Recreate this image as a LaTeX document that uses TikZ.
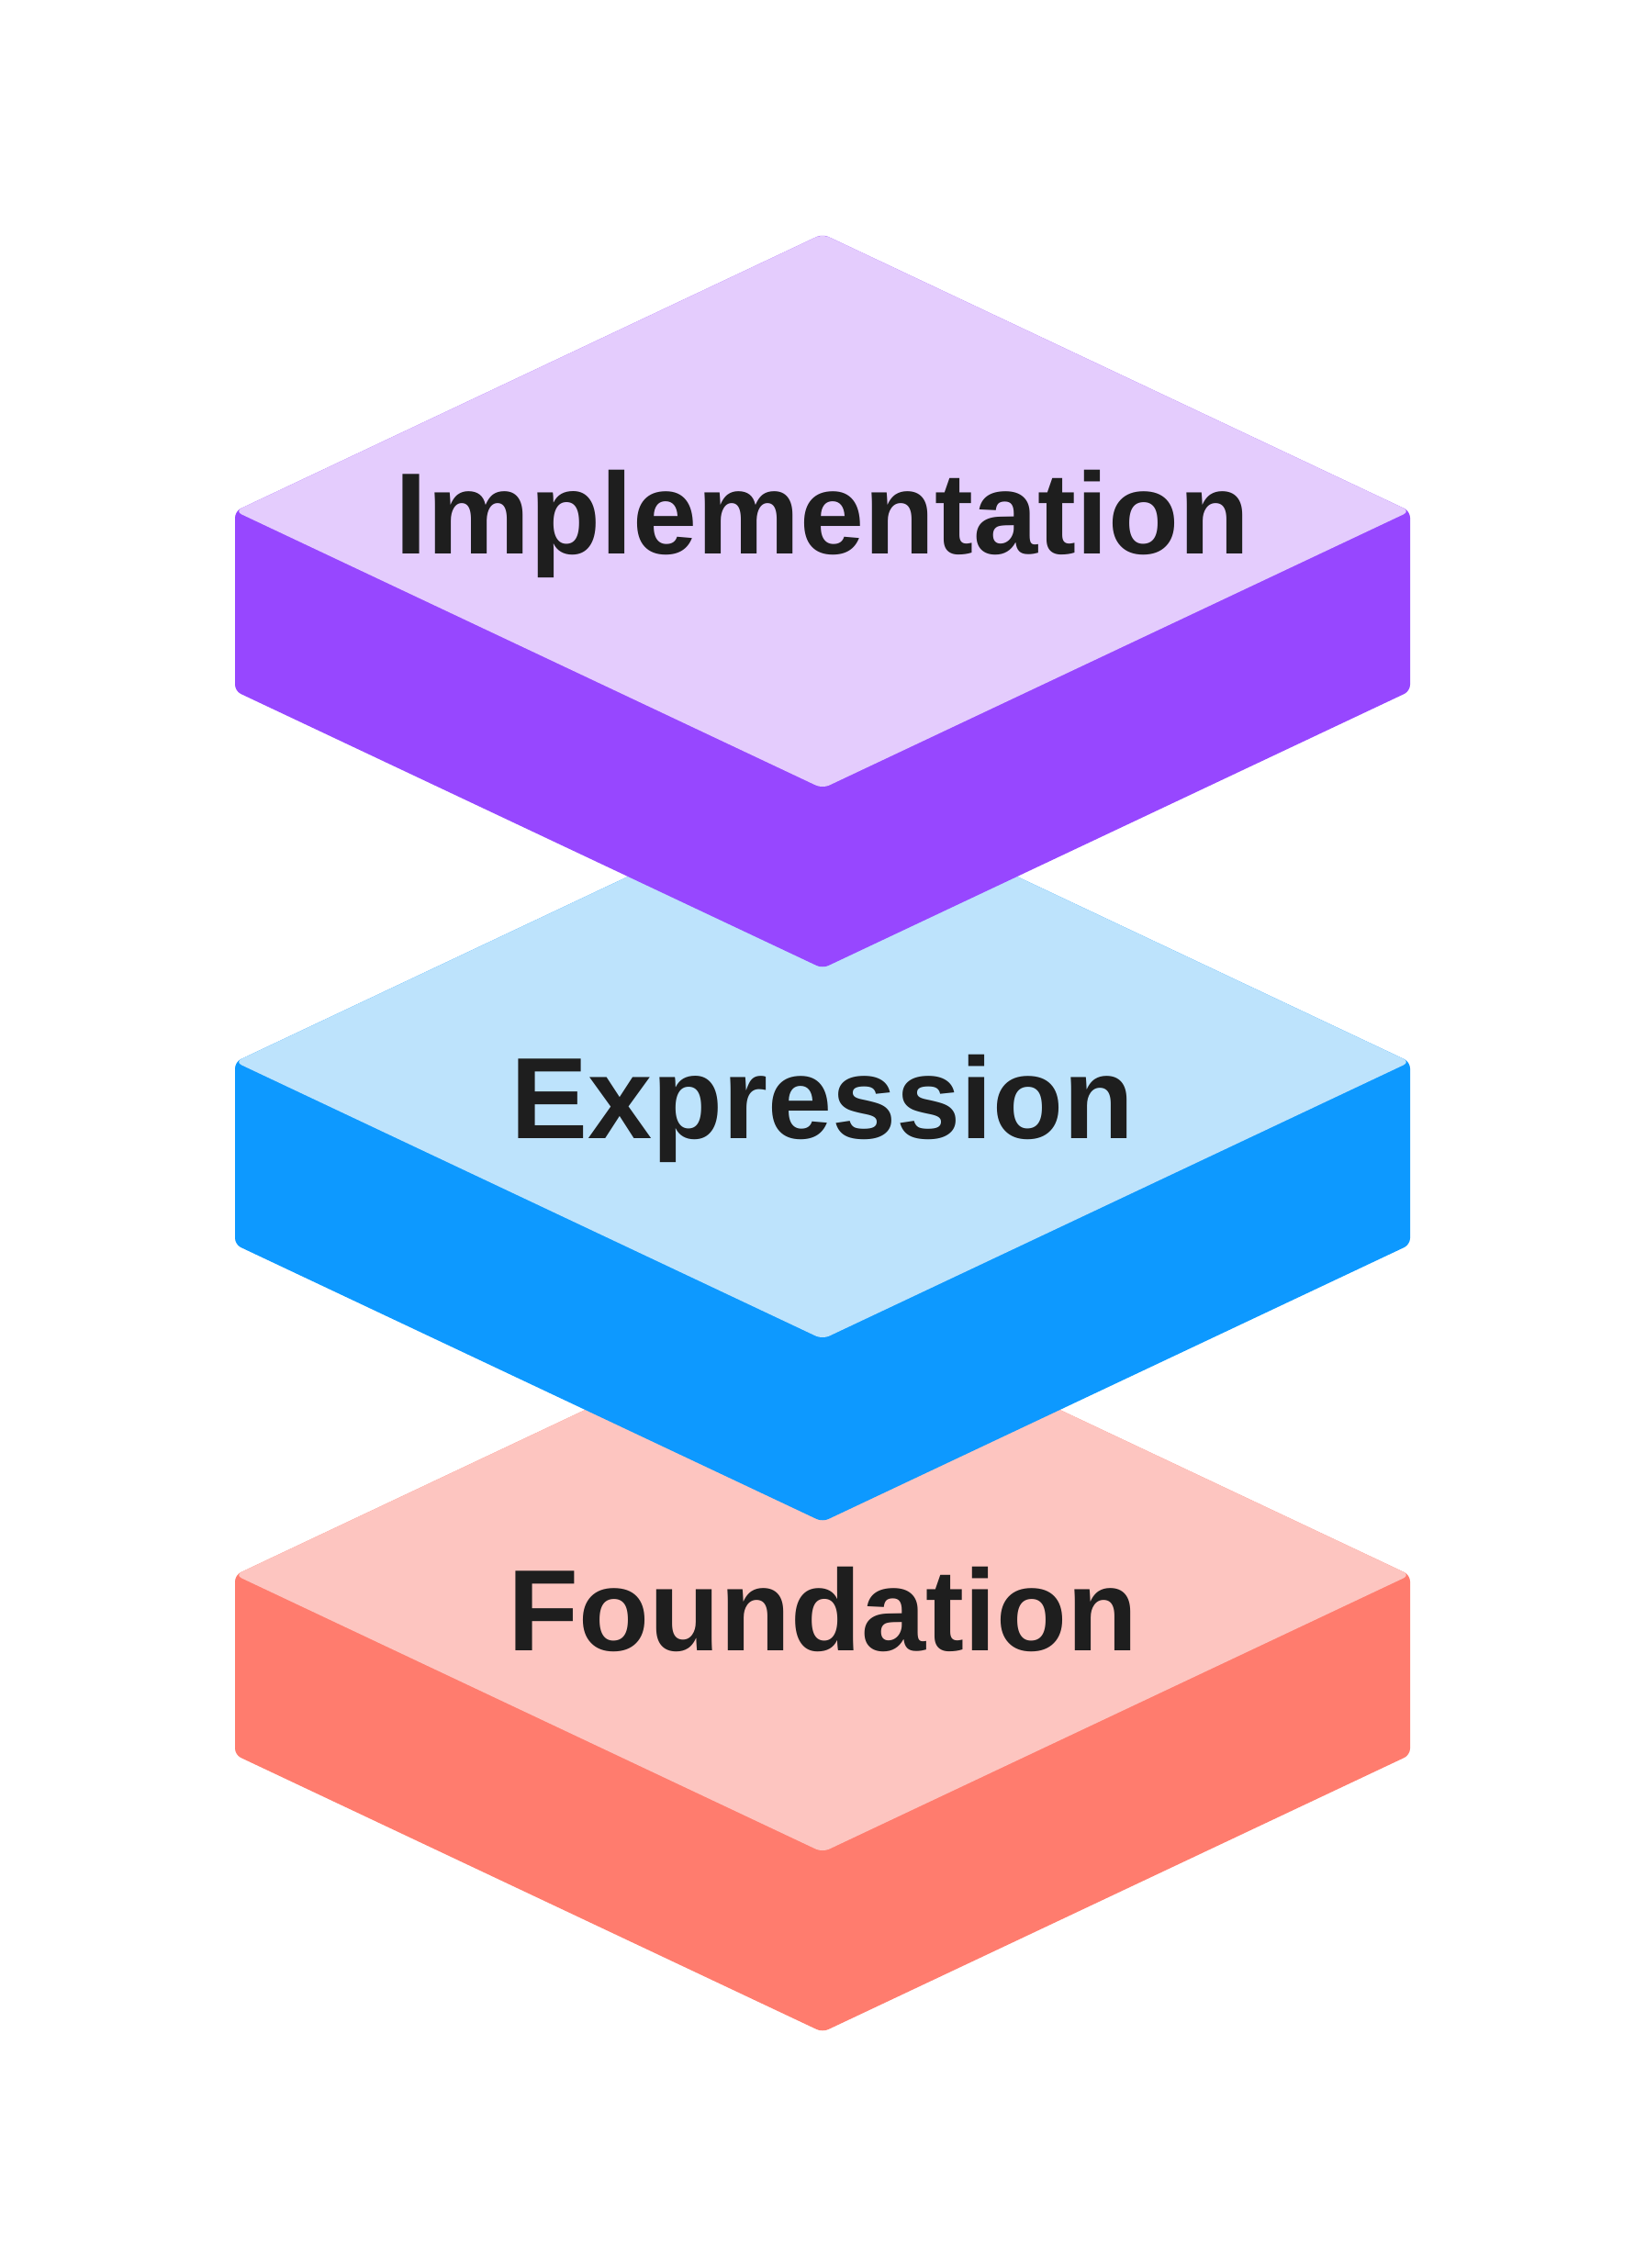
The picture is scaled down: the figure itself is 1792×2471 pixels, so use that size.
\documentclass[tikz,border=0pt]{standalone}
\usepackage{fontspec}
\setmainfont{Liberation Sans}
\definecolor{implFace}{HTML}{E4CCFD}
\definecolor{implSide}{HTML}{9747FF}
\definecolor{exprFace}{HTML}{BDE3FC}
\definecolor{exprSide}{HTML}{0D99FF}
\definecolor{foundFace}{HTML}{FDC5C0}
\definecolor{foundSide}{HTML}{FF7C6E}
\definecolor{inkText}{HTML}{1E1E1E}
\begin{document}
\begin{tikzpicture}[x=1pt,y=-1pt,
  sidepart/.style={rounded corners=7pt},
  facepart/.style={rounded corners=8pt},
  layerlabel/.style={anchor=base,inner sep=0pt,text=inkText,
    font=\fontsize{126}{130}\selectfont\bfseries}]
\useasboundingbox[fill=white] (0,0) rectangle (1792,2471);
% layer: cy, depth, side colour, face colour
\foreach \cy/\dd/\sc/\fc in {1716/196/foundSide/foundFace,1157/199/exprSide/exprFace,557/196/implSide/implFace}{
  \fill[sidepart,\sc] (256,\cy) -- (896,\cy-302) -- (1536,\cy) -- (1536,\cy+\dd)
     -- (896,\cy+302+\dd) -- (256,\cy+\dd) -- cycle;
  \fill[facepart,\fc] (256,\cy) -- (896,\cy-302) -- (1536,\cy) -- (896,\cy+302) -- cycle;
}
\node[layerlabel] (impl) at (896,603) {Implementation};
\node[layerlabel] (expr) at (896,1240) {Expression};
\node[layerlabel] (found) at (896,1798) {Foundation};
\end{tikzpicture}
\end{document}
